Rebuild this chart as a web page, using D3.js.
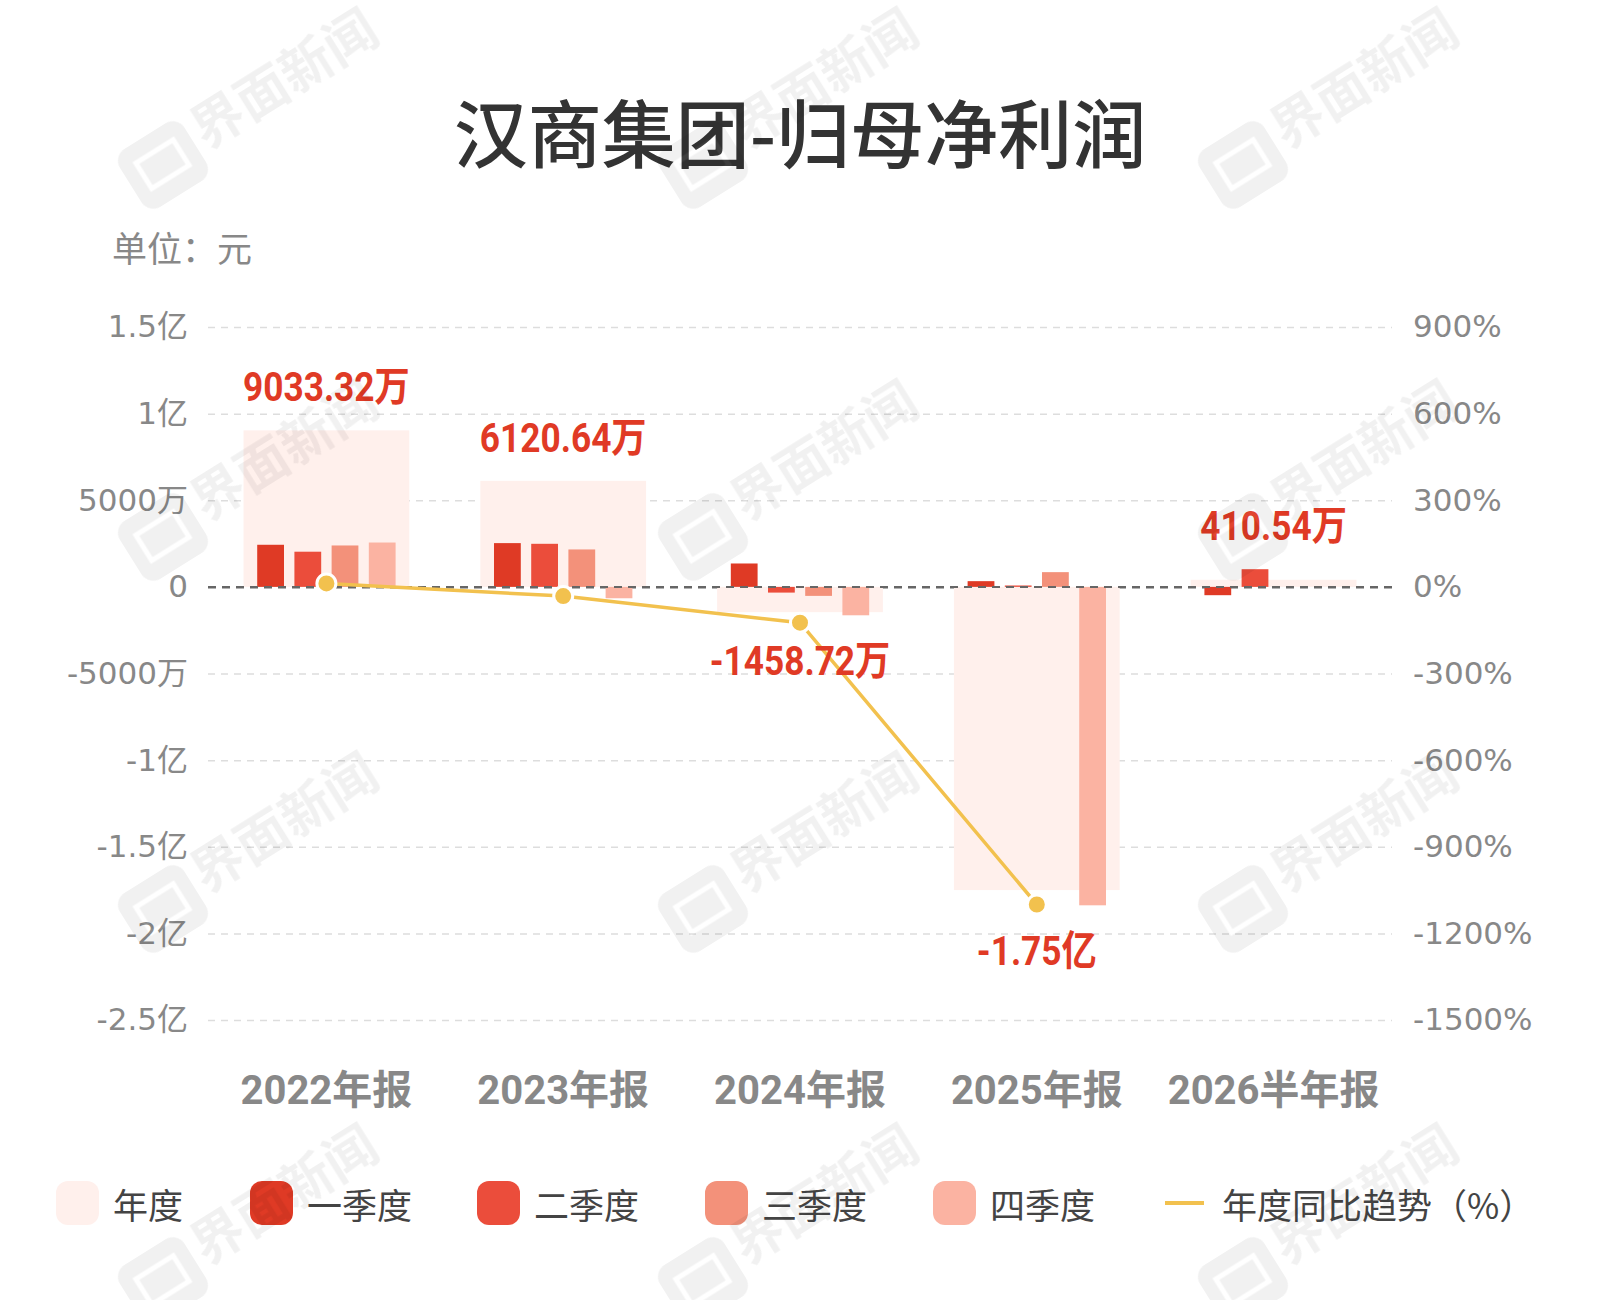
<!DOCTYPE html>
<html>
<head>
<meta charset="utf-8">
<script src="https://cdn.jsdelivr.net/npm/d3@7"></script>
<style>
  body { margin: 0; background: #fff; }
  text { font-family: Roboto, "Noto Sans CJK SC", sans-serif; }
</style>
</head>
<body>
<svg id="chart" width="1600" height="1300"></svg>
<script>
// Data (values in 元, 万 = 1e4)
const categories = ["2022年报", "2023年报", "2024年报", "2025年报", "2026半年报"];
const annual = [9033.32e4, 6120.64e4, -1458.72e4, -1.75e8, 410.54e4];
const annualLabels = ["9033.32万", "6120.64万", "-1458.72万", "-1.75亿", "410.54万"];
const q1 = [2430e4, 2526e4, 1350e4, 330e4, -480e4];
const q2 = [2030e4, 2486e4, -330e4, 80e4, 1020e4];
const q3 = [2390e4, 2160e4, -520e4, 850e4, null];
const q4 = [2560e4, -657e4, -1640e4, -18380e4, null];
const yoy = [12, -32, -124, -1100, null];

const yTicks = [1.5e8, 1e8, 5e7, 0, -5e7, -1e8, -1.5e8, -2e8, -2.5e8];
const yTickLabels = ["1.5亿", "1亿", "5000万", "0", "-5000万", "-1亿", "-1.5亿", "-2亿", "-2.5亿"];
const y2Ticks = [900, 600, 300, 0, -300, -600, -900, -1200, -1500];
const y2TickLabels = ["900%", "600%", "300%", "0%", "-300%", "-600%", "-900%", "-1200%", "-1500%"];

const quarterNames = ["一季度", "二季度", "三季度", "四季度"];
const quarterSeries = [q1, q2, q3, q4];
const quarterColors = ["#df3a25", "#eb4d3b", "#f3917a", "#fbb3a2"];
const annualColor = "#fff0ec";
const lineColor = "#f2c14e";
const labelColor = "#e03a25";

// Layout
const plot = { left: 208, right: 1392, top: 327, bottom: 1020 };

const svg = d3.select("#chart");

const x = d3.scaleBand()
    .domain(categories)
    .range([plot.left, plot.right]);

const xq = d3.scaleBand()
    .domain(quarterNames)
    .range([-74.4, 74.4])
    .paddingInner(0.28)
    .paddingOuter(0.14);

const y = d3.scaleLinear()
    .domain([-2.5e8, 1.5e8])
    .range([plot.bottom, plot.top]);

const y2 = d3.scaleLinear()
    .domain([-1500, 900])
    .range([plot.bottom, plot.top]);

// Title and unit
svg.append("text")
    .attr("x", 800)
    .attr("y", 129)
    .attr("text-anchor", "middle")
    .attr("dominant-baseline", "central")
    .style("font-family", "'Noto Sans CJK SC', sans-serif")
    .style("font-size", "74px")
    .style("font-weight", 500)
    .attr("fill", "#333")
    .text("汉商集团-归母净利润");

svg.append("text")
    .attr("x", 112)
    .attr("y", 246)
    .attr("dominant-baseline", "central")
    .style("font-family", "'Noto Sans CJK SC', sans-serif")
    .style("font-size", "35px")
    .attr("fill", "#888")
    .text("单位：元");

// Grid lines
svg.append("g")
    .attr("class", "grid")
    .attr("transform", `translate(${plot.left},0)`)
    .call(d3.axisLeft(y)
        .tickValues(yTicks)
        .tickSize(-(plot.right - plot.left))
        .tickFormat(""))
    .call(g => g.select(".domain").remove())
    .call(g => g.selectAll(".tick line")
        .attr("stroke", d => d === 0 ? "#666" : "#ddd")
        .attr("stroke-width", d => d === 0 ? 2 : 1.5)
        .attr("stroke-dasharray", d => d === 0 ? "8,6" : "7,6"));

// Annual bars (background)
const yZero = y(0);
svg.append("g")
    .selectAll("rect")
    .data(categories)
    .enter().append("rect")
    .attr("x", d => x(d) + x.bandwidth() * 0.15)
    .attr("width", x.bandwidth() * 0.7)
    .attr("y", (d, i) => Math.min(y(annual[i]), yZero))
    .attr("height", (d, i) => Math.abs(y(annual[i]) - yZero))
    .attr("fill", annualColor);

// Quarterly bars
quarterSeries.forEach((series, qi) => {
    svg.append("g")
        .selectAll("rect")
        .data(categories.map((c, i) => ({ c, v: series[i] })).filter(d => d.v != null))
        .enter().append("rect")
        .attr("x", d => x(d.c) + x.bandwidth() / 2 + xq(quarterNames[qi]))
        .attr("width", xq.bandwidth())
        .attr("y", d => Math.min(y(d.v), yZero))
        .attr("height", d => Math.abs(y(d.v) - yZero))
        .attr("fill", quarterColors[qi]);
});

// Redraw zero line above bars
svg.append("line")
    .attr("x1", plot.left)
    .attr("x2", plot.right)
    .attr("y1", yZero)
    .attr("y2", yZero)
    .attr("stroke", "#666")
    .attr("stroke-width", 2)
    .attr("stroke-dasharray", "8,6");

// YoY line
const lineData = categories.map((c, i) => ({ c, v: yoy[i] }));
const line = d3.line()
    .defined(d => d.v != null)
    .x(d => x(d.c) + x.bandwidth() / 2)
    .y(d => y2(d.v));

svg.append("path")
    .datum(lineData)
    .attr("d", line)
    .attr("fill", "none")
    .attr("stroke", lineColor)
    .attr("stroke-width", 3.5);

svg.selectAll(".dot")
    .data(lineData.filter(d => d.v != null))
    .enter().append("circle")
    .attr("class", "dot")
    .attr("cx", d => x(d.c) + x.bandwidth() / 2)
    .attr("cy", d => y2(d.v))
    .attr("r", 9.5)
    .attr("fill", lineColor)
    .attr("stroke", "#fff")
    .attr("stroke-width", 3);

// Annual value labels
categories.forEach((c, i) => {
    const vals = [annual[i], ...quarterSeries.map(s => s[i])].filter(v => v != null);
    const cx = x(c) + x.bandwidth() / 2;
    let by;
    if (annual[i] >= 0) {
        by = y(d3.max(vals)) - 29;
    } else {
        by = y(d3.min(vals)) + 60;
    }
    svg.append("text")
        .attr("transform", `translate(${cx},${by}) scale(0.86,1)`)
        .attr("text-anchor", "middle")
        .style("font-size", "41px")
        .style("font-weight", 700)
        .attr("fill", labelColor)
        .text(annualLabels[i]);
});

// Left axis
svg.append("g")
    .attr("transform", `translate(${plot.left},0)`)
    .call(d3.axisLeft(y)
        .tickValues(yTicks)
        .tickFormat((d, i) => yTickLabels[i])
        .tickSize(0)
        .tickPadding(20))
    .call(g => g.select(".domain").remove())
    .call(g => g.selectAll("text")
        .style("font-family", "'DejaVu Sans', 'Noto Sans CJK SC', sans-serif")
        .style("font-size", "31px")
        .attr("fill", "#888"));

// Right axis
svg.append("g")
    .attr("transform", `translate(${plot.right},0)`)
    .call(d3.axisRight(y2)
        .tickValues(y2Ticks)
        .tickFormat((d, i) => y2TickLabels[i])
        .tickSize(0)
        .tickPadding(21))
    .call(g => g.select(".domain").remove())
    .call(g => g.selectAll("text")
        .style("font-family", "'DejaVu Sans', 'Noto Sans CJK SC', sans-serif")
        .style("font-size", "31px")
        .attr("fill", "#888"));

// X axis
svg.append("g")
    .attr("transform", "translate(0,1090)")
    .call(d3.axisBottom(x).tickSize(0))
    .call(g => g.select(".domain").remove())
    .call(g => g.selectAll("text")
        .attr("y", 0)
        .attr("dy", "0.35em")
        .style("font-size", "40px")
        .style("font-weight", 700)
        .attr("fill", "#888"));

// Legend
const legendItems = [
    { name: "年度", color: annualColor, type: "rect", x: 56 },
    { name: quarterNames[0], color: quarterColors[0], type: "rect", x: 250 },
    { name: quarterNames[1], color: quarterColors[1], type: "rect", x: 477 },
    { name: quarterNames[2], color: quarterColors[2], type: "rect", x: 705 },
    { name: quarterNames[3], color: quarterColors[3], type: "rect", x: 933 },
    { name: "年度同比趋势（%）", color: lineColor, type: "line", x: 1165 }
];
const legendY = 1203;
const legend = svg.append("g").attr("class", "legend");
legendItems.forEach(item => {
    const g = legend.append("g").attr("transform", `translate(${item.x},${legendY})`);
    if (item.type === "rect") {
        g.append("rect")
            .attr("x", 0).attr("y", -22)
            .attr("width", 43).attr("height", 44)
            .attr("rx", 12)
            .attr("fill", item.color);
    } else {
        g.append("line")
            .attr("x1", 0).attr("x2", 39)
            .attr("stroke", item.color)
            .attr("stroke-width", 4);
    }
    g.append("text")
        .attr("x", 57)
        .attr("dominant-baseline", "central")
        .style("font-family", "'Noto Sans CJK SC', sans-serif")
        .style("font-size", "35px")
        .attr("fill", "#444")
        .text(item.name);
});

// Watermark tiles
const wm = svg.append("g").attr("class", "watermark").attr("opacity", 0.055);
[0, 540, 1080].forEach(dx => {
    [0, 372, 744, 1116].forEach(dy => {
        const g = wm.append("g").attr("transform", `translate(${dx},${dy + 8})`);
        const icon = g.append("g").attr("transform", "translate(163,157) rotate(-32)");
        icon.append("rect")
            .attr("x", -38).attr("y", -34)
            .attr("width", 76).attr("height", 68)
            .attr("rx", 14)
            .attr("fill", "#000");
        icon.append("rect")
            .attr("x", -22).attr("y", -16)
            .attr("width", 44).attr("height", 30)
            .attr("fill", "none")
            .attr("stroke", "#fff")
            .attr("stroke-width", 5);
        g.append("text")
            .attr("transform", "translate(206,142) rotate(-32)")
            .style("font-family", "'Noto Sans CJK SC', sans-serif")
            .style("font-size", "52px")
            .style("font-weight", 700)
            .attr("fill", "#000")
            .text("界面新闻");
    });
});
</script>
</body>
</html>
